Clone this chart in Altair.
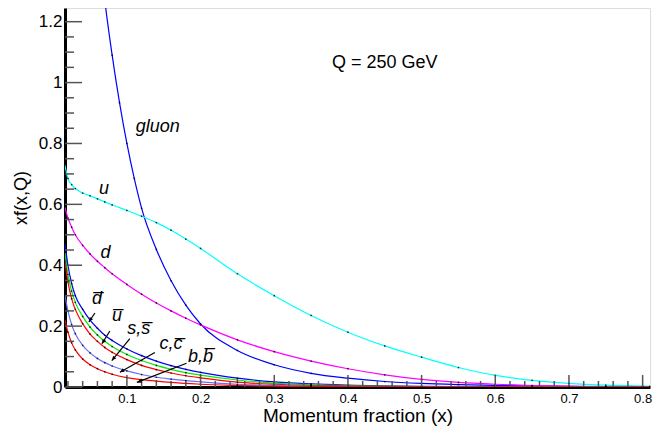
import math
import altair as alt
import pandas as pd

# ---------------- data ----------------
X_GLUON = [0.06, 0.07, 0.08, 0.09, 0.10, 0.11, 0.12, 0.14, 0.16, 0.18, 0.20, 0.25, 0.30, 0.35,
           0.40, 0.45, 0.50, 0.55, 0.60, 0.65, 0.70, 0.75, 0.80, 0.81]
GLUON = [1.50, 1.27, 1.09, 0.934, 0.80, 0.685, 0.587, 0.452, 0.349, 0.269, 0.207, 0.12, 0.073,
         0.045, 0.029, 0.018, 0.0117, 0.0078, 0.005, 0.0032, 0.002, 0.0012, 0.0008, 0.0007]

X_VAL = [0.016, 0.02, 0.025, 0.03, 0.04, 0.05, 0.06, 0.07, 0.08, 0.10, 0.12, 0.14, 0.16,
         0.18, 0.20, 0.25, 0.30, 0.35, 0.40, 0.45, 0.50, 0.55, 0.60, 0.65, 0.70, 0.75, 0.80, 0.81]
U_VAL = [0.728, 0.685, 0.665, 0.652, 0.637, 0.628, 0.618, 0.608, 0.598, 0.580, 0.561, 0.540,
         0.515, 0.486, 0.455, 0.372, 0.300, 0.235, 0.180, 0.135, 0.098, 0.064, 0.038, 0.022,
         0.012, 0.006, 0.003, 0.0025]
D_VAL = [0.59, 0.555, 0.525, 0.50, 0.465, 0.437, 0.413, 0.392, 0.372, 0.337, 0.305, 0.276, 0.25,
         0.226, 0.204, 0.155, 0.116, 0.085, 0.060, 0.040, 0.025, 0.015, 0.009, 0.005, 0.003,
         0.0015, 0.0008, 0.0007]

X_SEA = [0.016, 0.02, 0.025, 0.03, 0.04, 0.05, 0.06, 0.07, 0.08, 0.10, 0.12, 0.14, 0.16,
         0.18, 0.20, 0.25, 0.30, 0.35, 0.40, 0.50, 0.60, 0.70, 0.81]
DBAR = [0.47, 0.40, 0.34, 0.30, 0.255, 0.220, 0.193, 0.170, 0.153, 0.125, 0.103, 0.085, 0.070,
        0.058, 0.048, 0.029, 0.017, 0.010, 0.006, 0.002, 0.0006, 0.0001, 0.0]
UBAR = [0.44, 0.37, 0.315, 0.278, 0.232, 0.197, 0.171, 0.150, 0.133, 0.107, 0.087, 0.071, 0.058,
        0.047, 0.039, 0.023, 0.013, 0.0075, 0.0043, 0.0014, 0.0004, 0.0001, 0.0]
SBAR = [0.41, 0.345, 0.29, 0.255, 0.208, 0.174, 0.150, 0.130, 0.114, 0.090, 0.071, 0.057, 0.046,
        0.037, 0.030, 0.016, 0.009, 0.005, 0.003, 0.001, 0.0003, 0.0, 0.0]
CBAR = [0.30, 0.25, 0.205, 0.175, 0.137, 0.112, 0.094, 0.080, 0.069, 0.053, 0.041, 0.032, 0.026,
        0.021, 0.017, 0.009, 0.005, 0.003, 0.0015, 0.0005, 0.0001, 0.0, 0.0]
BBAR = [0.22, 0.18, 0.145, 0.122, 0.092, 0.073, 0.060, 0.050, 0.042, 0.031, 0.024, 0.019, 0.015,
        0.012, 0.009, 0.005, 0.0025, 0.0013, 0.0007, 0.0002, 0.0, 0.0, 0.0]

SERIES = [
    ("gluon", X_GLUON, GLUON, "#0000ff"),
    ("u", X_VAL, U_VAL, "#00ffff"),
    ("d", X_VAL, D_VAL, "#ff00ff"),
    ("dbar", X_SEA, DBAR, "#0000ff"),
    ("ubar", X_SEA, UBAR, "#00ee00"),
    ("sbar", X_SEA, SBAR, "#ff0000"),
    ("cbar", X_SEA, CBAR, "#6a6aff"),
    ("bbar", X_SEA, BBAR, "#ff0000"),
]

# curve labels (text, x, y)
LABEL_TEXT = ["gluon", "u", "d", "d\u0305", "u\u0305", "s,s\u0305", "c,c\u0305", "b,b\u0305"]
LABEL_X = [0.142, 0.069, 0.071, 0.0595, 0.0865, 0.116, 0.160, 0.200]
LABEL_Y = [0.855, 0.652, 0.440, 0.288, 0.233, 0.190, 0.140, 0.097]

# arrows (from label toward curve)
ARROW_X1 = [0.0566, 0.0769, 0.104, 0.138, 0.181]
ARROW_Y1 = [0.243, 0.184, 0.159, 0.113, 0.078]
ARROW_X2 = [0.0484, 0.0661, 0.0796, 0.0905, 0.1136]
ARROW_Y2 = [0.214, 0.142, 0.087, 0.0485, 0.015]

X_MAJOR = [0.1, 0.2, 0.3, 0.4, 0.5, 0.6, 0.7, 0.8]
X_MINOR = [0.02, 0.04, 0.06, 0.08, 0.12, 0.14, 0.16, 0.18, 0.22, 0.24, 0.26, 0.28, 0.32,
           0.34, 0.36, 0.38, 0.42, 0.44, 0.46, 0.48, 0.52, 0.54, 0.56, 0.58, 0.62, 0.64,
           0.66, 0.68, 0.72, 0.74, 0.76, 0.78]
Y_MAJOR = [0.0, 0.2, 0.4, 0.6, 0.8, 1.0, 1.2]
Y_MINOR = [0.05, 0.1, 0.15, 0.25, 0.3, 0.35, 0.45, 0.5, 0.55, 0.65, 0.7, 0.75, 0.85, 0.9,
           0.95, 1.05, 1.1, 1.15]

# ---------------- chart ----------------
XMIN, XMAX = 0.016, 0.81
YMIN, YMAX = 0.0, 1.245
W, H = 585, 379
FONT = "Liberation Sans"

rows = []
for name, xs_, ys_, col in SERIES:
    for xv, yv in zip(xs_, ys_):
        rows.append({"series": name, "x": xv, "y": yv})
df = pd.DataFrame(rows)

xs = alt.Scale(domain=[XMIN, XMAX], nice=False, zero=False)
ys = alt.Scale(domain=[YMIN, YMAX], nice=False, zero=False)
names = [s[0] for s in SERIES]
colors = [s[3] for s in SERIES]

xaxis = alt.Axis(values=X_MAJOR, format=".1f", ticks=False, grid=False, domainColor="black",
                 domainWidth=3, labelFont=FONT, labelFontSize=13, labelColor="black",
                 labelPadding=5, title="Momentum fraction (x)", titleFont=FONT,
                 titleFontSize=19, titleFontWeight="normal", titleColor="black",
                 titlePadding=1, labelFlush=False)
yaxis = alt.Axis(values=Y_MAJOR, labelExpr="datum.value == 0 ? '0' : format(datum.value, '.2~f')",
                 ticks=False, grid=False, domainColor="black", domainWidth=3,
                 labelFont=FONT, labelFontSize=17, labelColor="black", labelPadding=3,
                 title="xf(x,Q)", titleFont=FONT, titleFontSize=18,
                 titleFontWeight="normal", titleColor="black", titlePadding=8, labelFlush=False)

base = alt.Chart(df)
lines = base.mark_line(strokeWidth=1.2, clip=True, interpolate="monotone").encode(
    x=alt.X("x:Q", scale=xs, axis=xaxis),
    y=alt.Y("y:Q", scale=ys, axis=yaxis),
    color=alt.Color("series:N", scale=alt.Scale(domain=names, range=colors), legend=None),
    detail="series:N",
)
dots = base.transform_filter(f"datum.y <= {YMAX} && datum.x > {XMIN}").mark_point(
    filled=True, size=3, color="black", opacity=0.8, clip=True).encode(
    x=alt.X("x:Q", scale=xs), y=alt.Y("y:Q", scale=ys))

# ticks drawn inward
tick_col = "#555555"
xmaj = alt.Chart(pd.DataFrame({"t": X_MAJOR})).mark_rule(color=tick_col, strokeWidth=1.5).encode(
    x=alt.X("t:Q", scale=xs), y=alt.value(H), y2=alt.value(H - 12))
xmin_ = alt.Chart(pd.DataFrame({"t": X_MINOR})).mark_rule(color=tick_col, strokeWidth=1.5).encode(
    x=alt.X("t:Q", scale=xs), y=alt.value(H), y2=alt.value(H - 6))
ymaj = alt.Chart(pd.DataFrame({"t": Y_MAJOR})).mark_rule(color=tick_col, strokeWidth=1.5).encode(
    y=alt.Y("t:Q", scale=ys), x=alt.value(0), x2=alt.value(17))
ymin_ = alt.Chart(pd.DataFrame({"t": Y_MINOR})).mark_rule(color=tick_col, strokeWidth=1.5).encode(
    y=alt.Y("t:Q", scale=ys), x=alt.value(0), x2=alt.value(9))

labels = alt.Chart(pd.DataFrame({"t": LABEL_TEXT, "x": LABEL_X, "y": LABEL_Y})).mark_text(
    font=FONT, fontSize=18, fontStyle="italic", color="black", align="center",
    baseline="middle").encode(x=alt.X("x:Q", scale=xs), y=alt.Y("y:Q", scale=ys), text="t:N")

qtext = alt.Chart(pd.DataFrame({"t": ["Q = 250 GeV"], "x": [0.45], "y": [1.065]})).mark_text(
    font=FONT, fontSize=18, color="black", align="center", baseline="middle").encode(
    x=alt.X("x:Q", scale=xs), y=alt.Y("y:Q", scale=ys), text="t:N")

sx = W / (XMAX - XMIN)
sy = H / (YMAX - YMIN)
angles = []
for x1, y1, x2, y2 in zip(ARROW_X1, ARROW_Y1, ARROW_X2, ARROW_Y2):
    dx = (x2 - x1) * sx
    dy = -(y2 - y1) * sy
    angles.append((math.degrees(math.atan2(dx, -dy)) + 360) % 360)
adf = pd.DataFrame({"x1": ARROW_X1, "y1": ARROW_Y1, "x2": ARROW_X2, "y2": ARROW_Y2, "a": angles})
ashaft = alt.Chart(adf).mark_rule(color="black", strokeWidth=1.2).encode(
    x=alt.X("x1:Q", scale=xs), y=alt.Y("y1:Q", scale=ys), x2="x2:Q", y2="y2:Q")
ahead = alt.Chart(adf).mark_point(shape="M0,0 L-0.45,1 L0.45,1 Z", filled=True, color="black",
                                  size=80, opacity=1).encode(
    x=alt.X("x2:Q", scale=xs), y=alt.Y("y2:Q", scale=ys), angle=alt.Angle("a:Q", scale=None))

chart = alt.layer(lines, dots, xmaj, xmin_, ymaj, ymin_, ashaft, ahead, labels, qtext).properties(
    width=W, height=H,
    autosize=alt.AutoSizeParams(type="none"),
    padding={"left": 57, "top": 0, "right": 10, "bottom": 45},
).configure_view(stroke="black", strokeWidth=2).configure(background="white")

chart.save("out.html", embed_options={"renderer": "svg", "actions": False})
